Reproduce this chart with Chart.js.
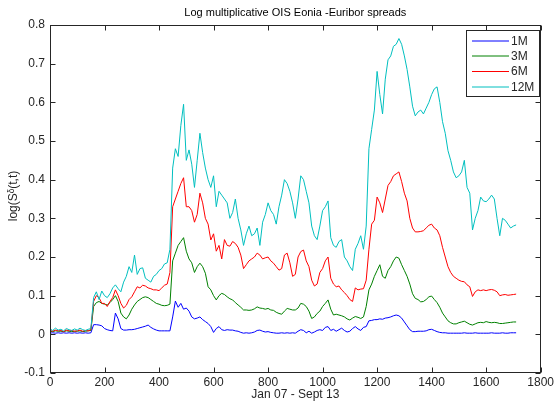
<!DOCTYPE html>
<html>
<head>
<meta charset="utf-8">
<script src="https://cdn.jsdelivr.net/npm/chart.js@4.4.0/dist/chart.umd.min.js"></script>
<style>
  html, body { margin: 0; padding: 0; background: #fff; }
  #chart { display: block; }
</style>
</head>
<body>
<canvas id="chart" width="556" height="401"></canvas>
<script>
// one sample every 10 days (trading-day index 0 .. 1710)
const step = 10;

const m1 = [
  0.003,0.004,0.003,0.004,0.003,0.004,0.003,0.004,0.003,0.004,
  0.003,0.004,0.003,0.004,0.003,0.004,0.025,0.025,0.024,0.022,
  0.015,0.012,0.010,0.009,0.055,0.040,0.015,0.011,0.011,0.012,
  0.012,0.013,0.015,0.017,0.019,0.021,0.024,0.018,0.014,0.011,
  0.009,0.009,0.009,0.009,0.009,0.045,0.086,0.070,0.080,0.065,
  0.068,0.060,0.045,0.040,0.042,0.045,0.038,0.033,0.028,0.020,
  0.005,0.015,0.020,0.012,0.010,0.012,0.011,0.011,0.009,0.008,
  0.005,0.003,0.004,0.003,0.004,0.006,0.010,0.011,0.008,0.006,
  0.007,0.005,0.004,0.003,0.003,0.004,0.003,0.004,0.003,0.004,
  0.003,0.008,0.012,0.010,0.004,0.008,0.003,0.006,0.010,0.012,
  0.010,0.018,0.020,0.010,0.013,0.008,0.012,0.016,0.010,0.006,
  0.008,0.015,0.020,0.014,0.010,0.018,0.020,0.035,0.036,0.038,
  0.038,0.040,0.039,0.042,0.043,0.045,0.048,0.050,0.048,0.042,
  0.032,0.022,0.012,0.007,0.007,0.008,0.008,0.008,0.009,0.012,
  0.013,0.010,0.007,0.005,0.004,0.004,0.003,0.003,0.003,0.003,
  0.003,0.003,0.004,0.003,0.003,0.003,0.004,0.003,0.003,0.003,
  0.003,0.003,0.004,0.003,0.003,0.003,0.004,0.003,0.003,0.004,
  0.004,0.004
];

const m3 = [
  0.008,0.007,0.009,0.008,0.008,0.007,0.009,0.008,0.007,0.008,
  0.008,0.009,0.007,0.008,0.009,0.010,0.072,0.082,0.085,0.080,
  0.078,0.076,0.082,0.090,0.100,0.085,0.055,0.045,0.040,0.050,
  0.065,0.076,0.085,0.090,0.095,0.097,0.095,0.090,0.085,0.080,
  0.078,0.075,0.074,0.075,0.078,0.190,0.210,0.230,0.240,0.250,
  0.215,0.195,0.185,0.160,0.175,0.184,0.175,0.158,0.123,0.115,
  0.100,0.089,0.100,0.106,0.103,0.097,0.092,0.089,0.082,0.076,
  0.070,0.063,0.063,0.062,0.063,0.066,0.071,0.068,0.067,0.065,
  0.067,0.063,0.062,0.057,0.054,0.052,0.060,0.067,0.065,0.063,
  0.063,0.068,0.080,0.078,0.072,0.060,0.041,0.045,0.054,0.060,
  0.072,0.080,0.089,0.065,0.050,0.052,0.050,0.048,0.045,0.040,
  0.037,0.042,0.046,0.044,0.041,0.045,0.072,0.115,0.130,0.150,
  0.165,0.180,0.150,0.145,0.165,0.175,0.190,0.200,0.197,0.180,
  0.165,0.150,0.130,0.105,0.093,0.090,0.084,0.085,0.090,0.097,
  0.099,0.090,0.082,0.070,0.055,0.045,0.035,0.030,0.027,0.027,
  0.030,0.032,0.034,0.030,0.026,0.024,0.027,0.030,0.031,0.030,
  0.033,0.031,0.030,0.031,0.030,0.028,0.028,0.029,0.030,0.031,
  0.032,0.032
];

const m6 = [
  0.010,0.008,0.011,0.009,0.010,0.007,0.011,0.009,0.010,0.008,
  0.009,0.011,0.008,0.010,0.009,0.012,0.085,0.100,0.095,0.080,
  0.080,0.072,0.085,0.095,0.115,0.100,0.080,0.068,0.075,0.090,
  0.097,0.110,0.123,0.120,0.127,0.125,0.120,0.118,0.115,0.115,
  0.113,0.120,0.127,0.130,0.160,0.330,0.350,0.370,0.390,0.405,
  0.330,0.330,0.320,0.290,0.310,0.365,0.340,0.300,0.285,0.244,
  0.260,0.215,0.230,0.195,0.245,0.230,0.228,0.240,0.235,0.225,
  0.205,0.170,0.180,0.190,0.195,0.200,0.210,0.205,0.195,0.198,
  0.200,0.190,0.184,0.175,0.166,0.170,0.205,0.210,0.185,0.150,
  0.155,0.200,0.214,0.218,0.190,0.175,0.140,0.125,0.130,0.160,
  0.170,0.190,0.200,0.145,0.130,0.123,0.125,0.115,0.108,0.100,
  0.090,0.085,0.120,0.115,0.117,0.118,0.140,0.220,0.285,0.295,
  0.355,0.340,0.315,0.350,0.385,0.395,0.410,0.415,0.420,0.395,
  0.365,0.345,0.300,0.275,0.265,0.265,0.266,0.268,0.275,0.282,
  0.285,0.275,0.270,0.255,0.225,0.200,0.175,0.160,0.150,0.145,
  0.140,0.137,0.136,0.128,0.123,0.098,0.110,0.115,0.113,0.115,
  0.113,0.115,0.116,0.114,0.110,0.100,0.102,0.103,0.101,0.102,
  0.103,0.104
];

const m12 = [
  0.014,0.010,0.016,0.011,0.013,0.009,0.015,0.012,0.010,0.014,
  0.011,0.016,0.012,0.010,0.013,0.015,0.095,0.110,0.090,0.112,
  0.100,0.095,0.105,0.120,0.128,0.118,0.110,0.135,0.150,0.175,
  0.160,0.205,0.155,0.170,0.172,0.145,0.140,0.135,0.150,0.155,
  0.165,0.170,0.182,0.185,0.220,0.430,0.480,0.460,0.540,0.595,
  0.450,0.477,0.440,0.380,0.450,0.520,0.470,0.430,0.400,0.380,
  0.410,0.330,0.370,0.360,0.350,0.340,0.300,0.315,0.350,0.300,
  0.270,0.230,0.260,0.280,0.255,0.260,0.275,0.230,0.290,0.310,
  0.340,0.320,0.310,0.285,0.330,0.360,0.400,0.390,0.370,0.340,
  0.300,0.350,0.410,0.400,0.370,0.340,0.280,0.255,0.245,0.280,
  0.320,0.330,0.345,0.250,0.230,0.225,0.240,0.245,0.200,0.190,
  0.175,0.165,0.220,0.235,0.255,0.220,0.280,0.480,0.530,0.580,
  0.680,0.620,0.570,0.660,0.710,0.720,0.745,0.750,0.765,0.750,
  0.720,0.685,0.640,0.590,0.565,0.575,0.580,0.570,0.585,0.600,
  0.620,0.635,0.640,0.600,0.550,0.520,0.475,0.450,0.420,0.405,
  0.410,0.420,0.450,0.380,0.365,0.270,0.300,0.320,0.355,0.345,
  0.343,0.350,0.360,0.350,0.300,0.255,0.300,0.295,0.285,0.275,
  0.280,0.283
];

const seriesNames = ['1M', '3M', '6M', '12M'];
const seriesColors = ['#0000ff', '#008000', '#ff0000', '#00bfbf'];
const xTicks = [0, 200, 400, 600, 800, 1000, 1200, 1400, 1600, 1800];
const yTicks = [-0.1, 0, 0.1, 0.2, 0.3, 0.4, 0.5, 0.6, 0.7, 0.8];

const titleText = 'Log multiplicative OIS Eonia -Euribor spreads';
const xTitle = 'Jan 07 - Sept 13';
const yTitle = 'log(S\u1D5F(t,t)';

const FONT = '"Liberation Sans", Arial, Helvetica, sans-serif';

function toPoints(arr) {
  return arr.map((v, i) => ({ x: i * step, y: v }));
}

const allSeries = [m1, m3, m6, m12];

// frame, inward ticks, titles and legend, MATLAB style
const matlabDecor = {
  id: 'matlabDecor',
  afterDraw(chart) {
    const c = chart.ctx;
    const a = chart.chartArea;
    const xs = chart.scales.x, ys = chart.scales.y;
    c.save();
    c.strokeStyle = '#262626';
    c.lineWidth = 1;
    const L = Math.round(a.left) + 0.5, R = Math.round(a.right) - 0.5;
    const T = Math.round(a.top) + 0.5, B = Math.round(a.bottom) - 0.5;
    c.strokeRect(L, T, R - L, B - T);
    c.beginPath();
    xTicks.forEach(v => {
      const px = Math.round(xs.getPixelForValue(v)) + 0.5;
      c.moveTo(px, B); c.lineTo(px, B - 5);
      c.moveTo(px, T); c.lineTo(px, T + 5);
    });
    yTicks.forEach(v => {
      const py = Math.round(ys.getPixelForValue(v)) + 0.5;
      c.moveTo(L, py); c.lineTo(L + 5, py);
      c.moveTo(R, py); c.lineTo(R - 5, py);
    });
    c.stroke();

    // title
    c.fillStyle = '#000';
    c.font = '11px ' + FONT;
    c.textAlign = 'center';
    c.textBaseline = 'middle';
    c.fillText(titleText, (a.left + a.right) / 2, 13);

    // axis titles
    c.fillStyle = '#262626';
    c.font = '12px ' + FONT;
    c.fillText(xTitle, (a.left + a.right) / 2, 395);
    c.save();
    c.translate(14, (a.top + a.bottom) / 2 - 3);
    c.rotate(-Math.PI / 2);
    c.fillText(yTitle, 0, 0);
    c.restore();

    // legend
    const bx = 466.5, by = 30.5, bw = 73, bh = 66;
    c.fillStyle = '#fff';
    c.fillRect(bx, by, bw, bh);
    c.strokeStyle = '#262626';
    c.strokeRect(bx, by, bw, bh);
    const rows = [41, 56, 71.5, 87];
    c.font = '12px ' + FONT;
    c.textAlign = 'left';
    seriesNames.forEach((name, i) => {
      c.strokeStyle = seriesColors[i];
      c.beginPath();
      c.moveTo(472, rows[i]);
      c.lineTo(509, rows[i]);
      c.stroke();
      c.fillStyle = '#262626';
      c.fillText(name, 511, rows[i] + 0.5);
    });
    c.restore();
  }
};

new Chart(document.getElementById('chart').getContext('2d'), {
  type: 'line',
  data: {
    datasets: seriesNames.map((name, i) => ({
      label: name,
      data: toPoints(allSeries[i]),
      borderColor: seriesColors[i],
      backgroundColor: seriesColors[i],
      borderWidth: 1,
      pointRadius: 0,
      tension: 0,
      fill: false,
      order: 4 - i
    }))
  },
  options: {
    responsive: false,
    animation: false,
    devicePixelRatio: 1,
    layout: { padding: { left: 0, right: 12, top: 25, bottom: 0 } },
    plugins: {
      legend: { display: false },
      tooltip: { enabled: false },
      title: { display: false }
    },
    scales: {
      x: {
        type: 'linear',
        min: 0,
        max: 1800,
        afterBuildTicks: s => { s.ticks = xTicks.map(v => ({ value: v })); },
        afterFit: s => { s.height = 28; },
        grid: { display: false, drawTicks: false },
        border: { display: false },
        ticks: {
          padding: 2,
          maxRotation: 0,
          autoSkip: false,
          color: '#262626',
          font: { family: FONT, size: 12 },
          callback: v => String(v)
        }
      },
      y: {
        type: 'linear',
        min: -0.1,
        max: 0.8,
        afterBuildTicks: s => { s.ticks = yTicks.map(v => ({ value: v })); },
        afterFit: s => { s.width = 50; },
        grid: { display: false, drawTicks: false },
        border: { display: false },
        ticks: {
          padding: 5,
          color: '#262626',
          font: { family: FONT, size: 12 },
          callback: v => String(Math.round(v * 10) / 10)
        }
      }
    }
  },
  plugins: [matlabDecor]
});
</script>
</body>
</html>
